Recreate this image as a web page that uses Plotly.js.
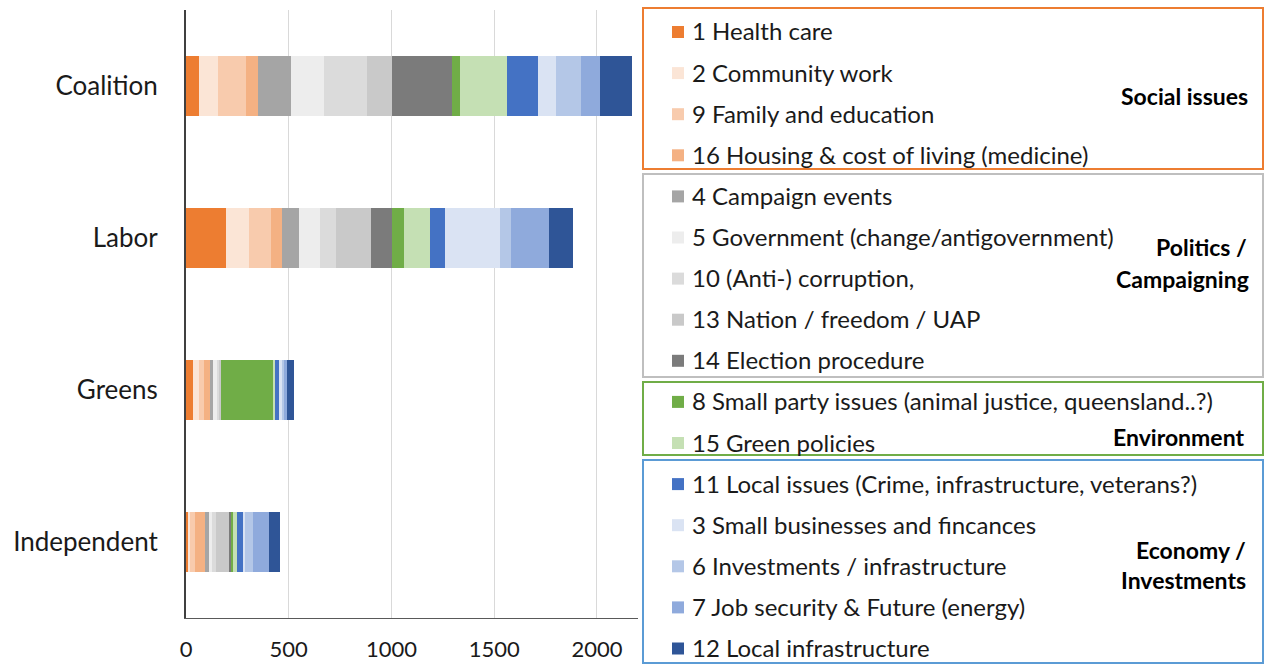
<!DOCTYPE html>
<html><head><meta charset="utf-8">
<script src="https://cdn.plot.ly/plotly-3.0.1.min.js"></script>
<style>html,body{margin:0;padding:0;background:#fff}#chart{width:1266px;height:668px}</style>
</head><body><div id="chart"></div>
<script>
// Categories (top to bottom)
const parties = ['Coalition', 'Labor', 'Greens', 'Independent'];

// Topic names (legend order = stacking order)
const topicNames = [
  '1 Health care',
  '2 Community work',
  '9 Family and education',
  '16 Housing & cost of living (medicine)',
  '4 Campaign events',
  '5 Government (change/antigovernment)',
  '10 (Anti-) corruption,',
  '13 Nation / freedom / UAP',
  '14 Election procedure',
  '8 Small party issues (animal justice, queensland..?)',
  '15 Green policies',
  '11 Local issues (Crime, infrastructure, veterans?)',
  '3 Small businesses and fincances',
  '6 Investments / infrastructure',
  '7 Job security & Future (energy)',
  '12 Local infrastructure'
];

// Series values [Coalition, Labor, Greens, Independent]
const healthCare      = [65, 193, 33, 8];
const communityWork   = [89, 113, 32, 11];
const familyEducation = [138, 109, 23, 26];
const housingCost     = [58, 52, 29, 46];
const campaignEvents  = [161, 81, 13, 22];
const government      = [160, 104, 22, 13];
const corruption      = [209, 76, 10, 20];
const nationFreedom   = [125, 172, 7, 65];
const electionProc    = [292, 102, 3, 6];
const smallParty      = [37, 58, 250, 10];
const greenPolicies   = [227, 127, 9, 23];
const localIssues     = [153, 73, 23, 29];
const smallBusiness   = [89, 267, 13, 9];
const investments     = [118, 54, 10, 36];
const jobSecurity     = [96, 185, 16, 81];
const localInfra      = [156, 118, 32, 52];

const xTicks = [0, 500, 1000, 1500, 2000];

// Group labels
const groupLabels = [
  {lines: ['Social issues'], first: 0, last: 3},
  {lines: ['Politics /', 'Campaigning'], first: 4, last: 8},
  {lines: ['Environment'], first: 9, last: 10},
  {lines: ['Economy /', 'Investments'], first: 11, last: 15}
];

const seriesValues = [healthCare, communityWork, familyEducation, housingCost,
  campaignEvents, government, corruption, nationFreedom, electionProc,
  smallParty, greenPolicies, localIssues, smallBusiness, investments, jobSecurity, localInfra];

const topicColors = ['#ED7D31','#FBE5D6','#F8CBAD','#F4B183',
  '#A5A5A5','#EDEDED','#DBDBDB','#C9C9C9','#7B7B7B',
  '#70AD47','#C5E0B4',
  '#4472C4','#DAE3F3','#B4C7E7','#8FAADC','#2F5597'];
const boxColors = ['#ED7D31', '#BFBFBF', '#70AD47', '#5B9BD5'];

const FONT = 'Lato, "Open Sans", sans-serif';
const L = 186, R = 638, T = 10, B = 618;
const px = p => (p - L) / (R - L);
const py = p => (B - p) / (B - T);

const traces = seriesValues.map((vals, i) => ({
  type: 'bar', orientation: 'h', name: topicNames[i],
  y: parties, x: vals,
  marker: {color: topicColors[i], line: {width: 0}},
  showlegend: false
}));

const shapes = [];
const annotations = [];
const boxes = [[8, 169], [174, 377], [382, 455], [460, 663]];
boxes.forEach((b, g) => {
  shapes.push({type: 'rect', xref: 'paper', yref: 'paper', layer: 'above',
    x0: px(643), x1: px(1263), y0: py(b[1]), y1: py(b[0]),
    fillcolor: '#ffffff', line: {color: boxColors[g], width: 2}});
});
const itemY0 = 31, itemStep = 41.1;
topicNames.forEach((name, i) => {
  const yc = itemY0 + i * itemStep;
  shapes.push({type: 'rect', xref: 'paper', yref: 'paper', layer: 'above',
    x0: px(672), x1: px(684), y0: py(yc + 7), y1: py(yc - 5),
    fillcolor: topicColors[i], line: {width: 0}});
  annotations.push({xref: 'paper', yref: 'paper', x: px(690), y: py(yc),
    xanchor: 'left', yanchor: 'middle', showarrow: false, text: name,
    font: {family: FONT, size: 24, color: '#1a1a1a'}});
});
const groupPos = [
  [{y: 96, r: 1250}],
  [{y: 247, r: 1249}, {y: 279, r: 1251}],
  [{y: 437, r: 1246}],
  [{y: 550, r: 1248}, {y: 580, r: 1248}]
];
groupLabels.forEach((g, gi) => {
  g.lines.forEach((ln, li) => {
    const p = groupPos[gi][li];
    annotations.push({xref: 'paper', yref: 'paper', x: px(p.r), y: py(p.y),
      xanchor: 'right', yanchor: 'middle', showarrow: false,
      text: '<b>' + ln + '</b>',
      font: {family: FONT, size: 23, color: '#000000'}});
  });
});

const layout = {
  width: 1266, height: 668,
  margin: {l: L, r: 1266 - R, t: T, b: 668 - B, pad: 0},
  barmode: 'stack', bargap: 0.6,
  paper_bgcolor: '#ffffff', plot_bgcolor: '#ffffff',
  font: {family: FONT, size: 22, color: '#1a1a1a'},
  xaxis: {range: [0, 2200], tickvals: xTicks, ticktext: xTicks.map(String),
    showgrid: true, gridcolor: '#D9D9D9', gridwidth: 1,
    showline: true, linecolor: '#595959', linewidth: 1,
    zeroline: false, ticks: '', ticklabelstandoff: 12,
    tickfont: {family: FONT, size: 22, color: '#1a1a1a'}},
  yaxis: {autorange: 'reversed', type: 'category',
    showline: true, linecolor: '#404040', linewidth: 2, showgrid: false,
    ticks: '', ticklabelstandoff: 21,
    tickfont: {family: FONT, size: 26, color: '#1a1a1a'}},
  shapes: shapes, annotations: annotations
};

Plotly.newPlot('chart', traces, layout, {displayModeBar: false, staticPlot: true});
</script></body></html>
